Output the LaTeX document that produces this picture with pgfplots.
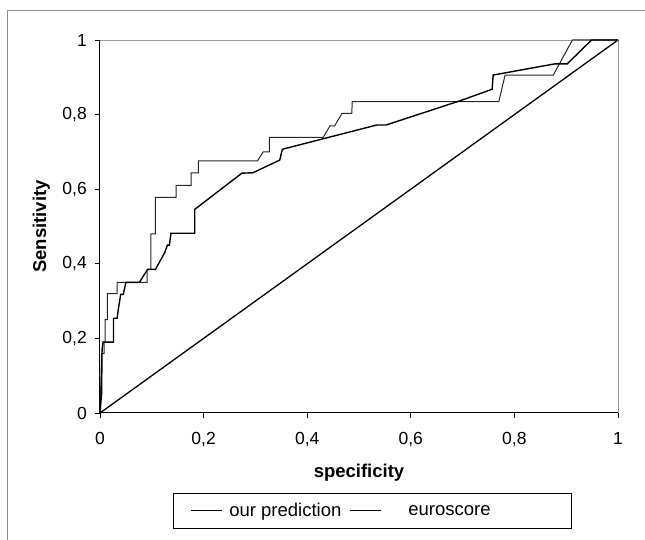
\documentclass[border=0pt]{standalone}
\usepackage{fontspec}
\setmainfont{Liberation Sans}
\usepackage{pgfplots}
\pgfplotsset{compat=1.18}
\begin{document}
\begin{tikzpicture}
\useasboundingbox (0,0) rectangle (645pt,540pt);
% scanned outer frame (top and left only)
\draw[black!45, line width=0.8pt] (7pt,0pt) -- (7pt,530pt) -- (645pt,530pt);
\begin{axis}[
  at={(100pt,127pt)}, anchor=south west,
  scale only axis, width=518pt, height=373pt,
  xmin=0, xmax=1, ymin=0, ymax=1,
  axis x line*=bottom, axis y line*=left,
  axis line style={line width=1pt, -},
  xtick={0,0.2,0.4,0.6,0.8,1}, ytick={0,0.2,0.4,0.6,0.8,1},
  tick align=outside, major tick length=5pt,
  tick style={black, line width=0.8pt},
  /pgf/number format/assume math mode=true,
  /pgf/number format/use comma,
  tick label style={font=\fontsize{17.5}{19}\selectfont},
  yticklabel style={anchor=east, inner sep=0pt, xshift=-8pt},
  xticklabel style={anchor=north, inner sep=0pt, yshift=-14pt},
  xlabel={specificity},
  xlabel style={at={(axis description cs:0.5,-0.1716)}, anchor=base,
                font=\fontsize{18.5}{20}\selectfont\bfseries},
  ylabel={Sensitivity},
  ylabel style={at={(axis description cs:-0.104,0.5)}, anchor=base,
                font=\fontsize{18.5}{20}\selectfont\bfseries},
  clip=false,
  legend image code/.code={\draw[#1, line width=0.9pt, black] (0pt,0pt) -- (31pt,0pt);},
  legend columns=2,
  legend style={at={(axis description cs:0.141,-0.2145)}, anchor=north west,
                draw=black, line width=0.8pt,
                font=\fontsize{18.5}{20}\selectfont,
                inner xsep=17pt, inner ysep=8pt,
                /tikz/every odd column/.append style={column sep=5pt},
                /tikz/every even column/.append style={column sep=6pt}},
]
\draw[black!40, line width=0.8pt] (rel axis cs:0,1) -- (rel axis cs:1,1) -- (rel axis cs:1,0);
\addplot[black!85, line width=1pt] coordinates {
  (0,0) (0.002,0.10) (0.003,0.16) (0.008,0.16) (0.008,0.19) (0.010,0.19)
  (0.010,0.25) (0.014,0.25) (0.014,0.32) (0.033,0.32) (0.033,0.35)
  (0.091,0.35) (0.091,0.385) (0.098,0.385) (0.098,0.48) (0.107,0.48)
  (0.107,0.578) (0.147,0.578) (0.147,0.61) (0.176,0.61) (0.176,0.644)
  (0.19,0.644) (0.19,0.676) (0.304,0.676) (0.315,0.70) (0.327,0.70)
  (0.327,0.739) (0.431,0.739) (0.444,0.770) (0.453,0.770) (0.467,0.803)
  (0.486,0.803) (0.487,0.835) (0.770,0.835) (0.782,0.906) (0.875,0.906)
  (0.912,1) (1,1)};
\addlegendentry{our prediction}
\addplot[black, line width=1.4pt] coordinates {
  (0,0) (0.003,0.05) (0.004,0.17) (0.006,0.19) (0.026,0.19) (0.026,0.254)
  (0.033,0.254) (0.036,0.284) (0.040,0.318) (0.045,0.318) (0.050,0.35)
  (0.076,0.35) (0.086,0.372) (0.092,0.385) (0.107,0.385) (0.125,0.43)
  (0.130,0.45) (0.134,0.45) (0.137,0.482) (0.183,0.482) (0.183,0.546)
  (0.274,0.643) (0.295,0.644) (0.347,0.678) (0.352,0.707) (0.534,0.772)
  (0.552,0.772) (0.695,0.837) (0.757,0.868) (0.759,0.906) (0.878,0.936)
  (0.902,0.936) (0.949,1) (1,1)};
\addlegendentry{\hspace{20pt}euroscore\hspace{62pt}\null}
\addplot[black, line width=1.3pt, forget plot] coordinates {(0,0) (1,1)};
\end{axis}
\end{tikzpicture}
\end{document}
